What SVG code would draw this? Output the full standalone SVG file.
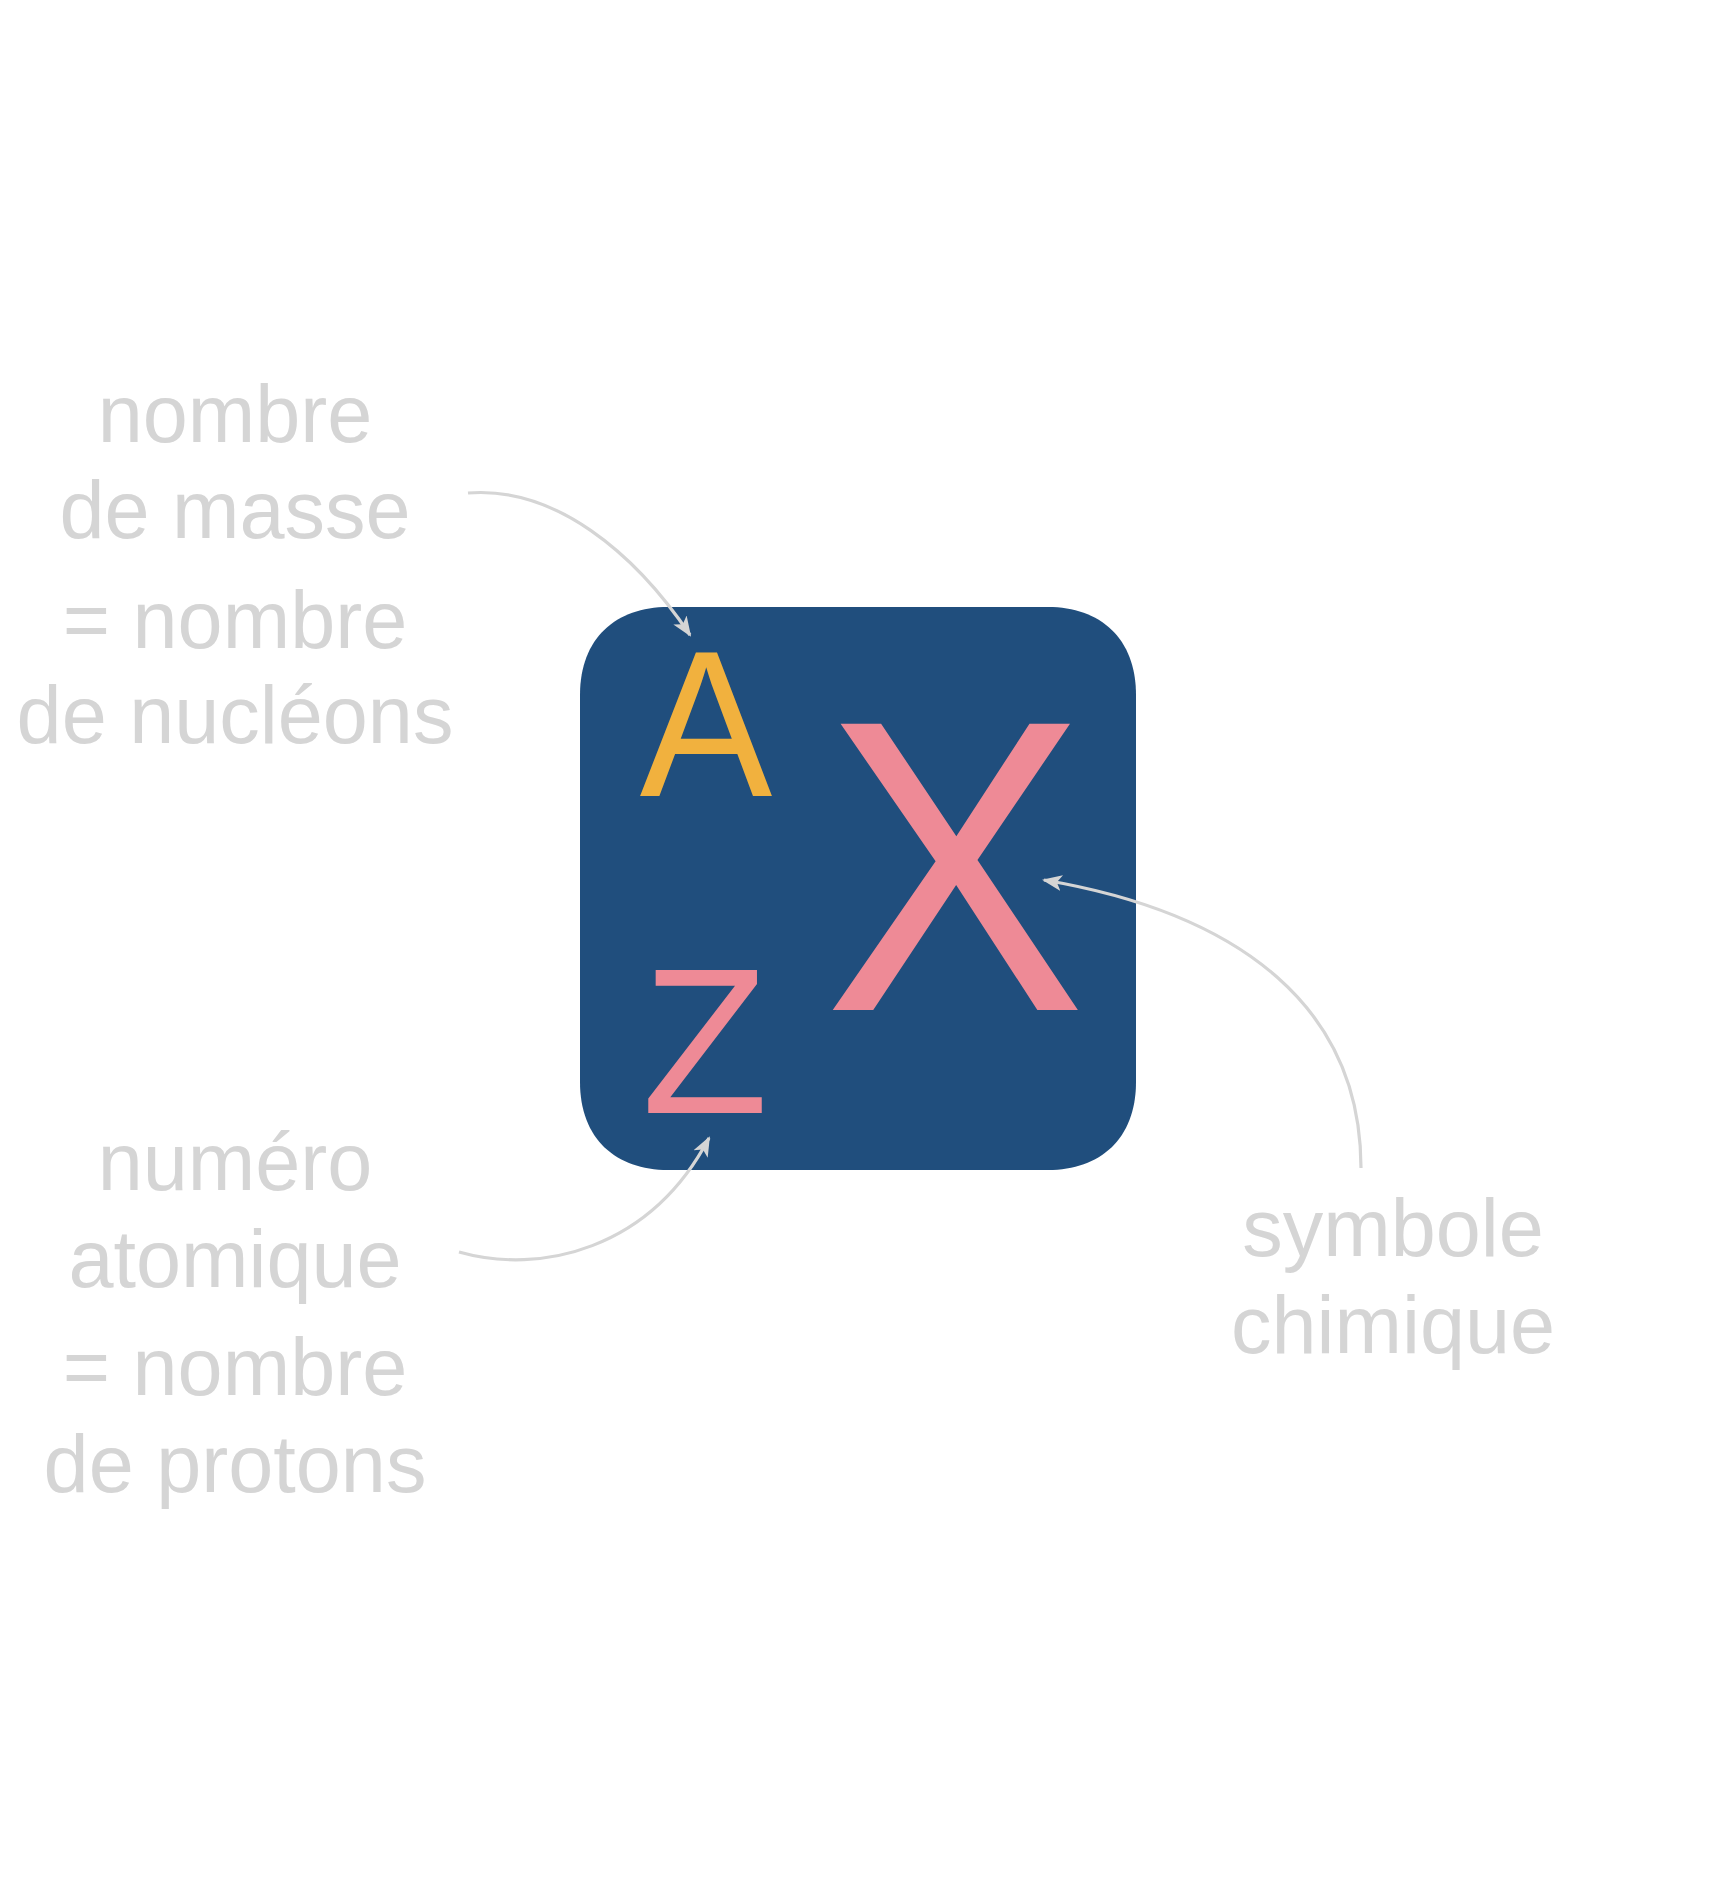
<svg xmlns="http://www.w3.org/2000/svg" width="1718" height="1898" viewBox="0 0 1718 1898">
<defs>
<style>
.lbl{font-family:"Liberation Sans",Arial,sans-serif;font-size:81px;fill:#D5D5D5;text-anchor:middle}
.sym{font-family:"Liberation Sans",Arial,sans-serif;text-anchor:middle}
.conn{fill:none;stroke:#D5D5D5;stroke-width:3.2}
</style>
<marker id="arr" viewBox="0 0 20 20" refX="18" refY="10" markerWidth="20" markerHeight="20" markerUnits="userSpaceOnUse" orient="auto">
<path d="M0,2 L20,10 L0,18 L5,10 Z" fill="#D5D5D5"/>
</marker>
</defs>
<rect width="1718" height="1898" fill="#FFFFFF"/>
<g id="box">
<path d="M668,607 H1048 C1100,607 1136,638 1136,695 V1082 C1136,1139 1100,1170 1048,1170 H668 C616,1170 580,1139 580,1082 V695 C580,638 616,607 668,607 Z" fill="#204E7D"/>
<text class="sym" transform="translate(706,796) scale(0.96,1)" font-size="207" fill="#F1B13E">A</text>
<text class="sym" x="705" y="1113" font-size="207" fill="#EE8A96">Z</text>
<text class="sym" transform="translate(955,1010) scale(0.945,1)" font-size="416" fill="#EE8A96">X</text>
</g>
<g id="label-masse">
<text class="lbl" x="235" y="442">nombre</text>
<text class="lbl" x="235" y="538">de masse</text>
<text class="lbl" x="235" y="648">= nombre</text>
<text class="lbl" x="235" y="743">de nucléons</text>
</g>
<g id="label-atomique">
<text class="lbl" x="235" y="1190">numéro</text>
<text class="lbl" x="235" y="1287">atomique</text>
<text class="lbl" x="235" y="1395">= nombre</text>
<text class="lbl" x="235" y="1492">de protons</text>
</g>
<g id="label-symbole">
<text class="lbl" x="1393" y="1256">symbole</text>
<text class="lbl" x="1393" y="1353">chimique</text>
</g>
<g id="connectors">
<path class="conn" marker-end="url(#arr)" d="M468,493 C555,486 635,553 690,635"/>
<path class="conn" marker-end="url(#arr)" d="M459,1252 C540,1275 650,1250 709,1138"/>
<path class="conn" marker-end="url(#arr)" d="M1361,1168 C1361,1010 1244,914 1044,880"/>
</g>
</svg>
